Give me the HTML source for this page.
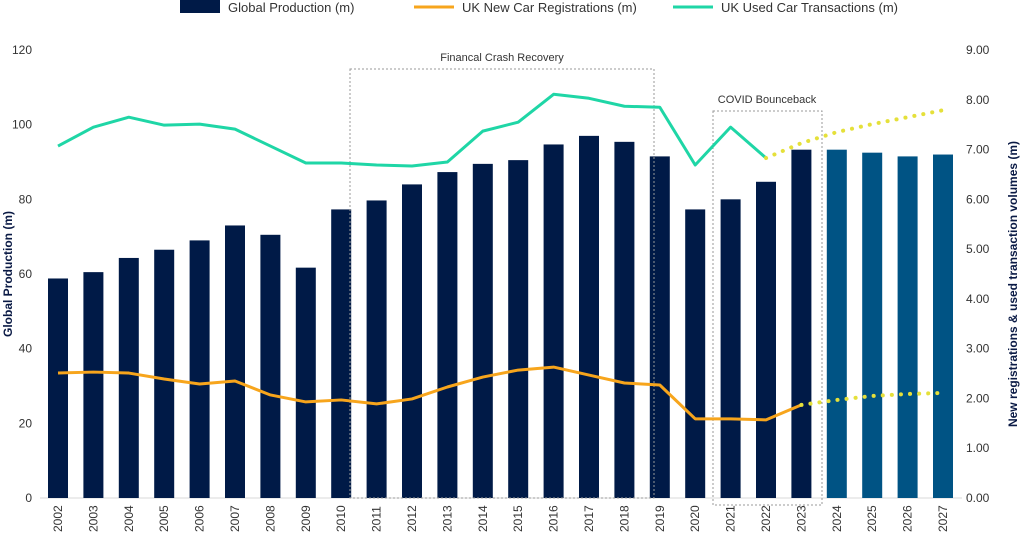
<!DOCTYPE html>
<html><head><meta charset="utf-8">
<style>
html,body{margin:0;padding:0;background:#fff;}
body{width:1024px;height:536px;overflow:hidden;font-family:"Liberation Sans",Arial,sans-serif;}
</style></head>
<body>
<svg id="chart" width="1024" height="536" xmlns="http://www.w3.org/2000/svg" font-family="Liberation Sans, Arial, sans-serif"></svg>
<script>
const years=["2002","2003","2004","2005","2006","2007","2008","2009","2010","2011","2012","2013","2014","2015","2016","2017","2018","2019","2020","2021","2022","2023","2024","2025","2026","2027"];
const production=[58.8,60.5,64.3,66.5,69,73,70.5,61.7,77.3,79.7,84,87.3,89.5,90.5,94.7,97,95.4,91.5,77.3,80,84.7,93.3,93.3,92.5,91.5,92];
const forecastFrom=22;
const usedActual=[7.07,7.45,7.65,7.49,7.51,7.41,7.07,6.73,6.73,6.69,6.67,6.75,7.37,7.55,8.11,8.03,7.87,7.85,6.69,7.45,6.83];
const usedForecast=[6.83,7.13,7.35,7.51,7.65,7.79];
const newActual=[2.51,2.53,2.51,2.39,2.29,2.35,2.07,1.93,1.97,1.89,1.99,2.23,2.43,2.57,2.63,2.47,2.31,2.27,1.59,1.59,1.57,1.87];
const newForecast=[1.87,1.97,2.05,2.09,2.11];
const leftTicks=[0,20,40,60,80,100,120];
const rightTicks=["0.00","1.00","2.00","3.00","4.00","5.00","6.00","7.00","8.00","9.00"];

const svg=document.getElementById('chart');
const NS="http://www.w3.org/2000/svg";
function mk(tag,attrs,parent){const e=document.createElementNS(NS,tag);for(const k in attrs)e.setAttribute(k,attrs[k]);(parent||svg).appendChild(e);return e;}
const y0=498,yTop=50;
const yL=v=>y0-(v/120)*(y0-yTop);
const yR=v=>y0-(v/9)*(y0-yTop);
const x=i=>58+i*35.4;

let base=mk('line',{x1:40,x2:962,y1:y0,y2:y0,stroke:'#d9d9d9','stroke-width':1});


leftTicks.forEach(v=>{const t=mk('text',{x:32,y:yL(v)+4,'text-anchor':'end','font-size':12,fill:'#333'});t.textContent=v;
});
rightTicks.forEach((v,i)=>{const t=mk('text',{x:966,y:yR(i)+4,'text-anchor':'start','font-size':12,fill:'#333'});t.textContent=v;
});

let lt=mk('text',{x:0,y:0,transform:'translate(12,274) rotate(-90)','text-anchor':'middle','font-size':12,'font-weight':'bold',fill:'#0a1a45'});lt.textContent='Global Production (m)';

let rt=mk('text',{x:0,y:0,transform:'translate(1017,284) rotate(-90)','text-anchor':'middle','font-size':12,'font-weight':'bold',fill:'#0a1a45'});rt.textContent='New registrations & used transaction volumes (m)';


production.forEach((v,i)=>{const b=mk('rect',{x:x(i)-10,y:yL(v),width:20,height:y0-yL(v),fill:i>=forecastFrom?'#005384':'#001a47'});
});

years.forEach((yr,i)=>{const t=mk('text',{x:0,y:0,transform:`translate(${x(i)+4},532) rotate(-90)`,'font-size':12,fill:'#333'});t.textContent=yr;
});

let b1=mk('rect',{x:350,y:69,width:304,height:429,fill:'none',stroke:'#999','stroke-width':1,'stroke-dasharray':'2,2'});

let t1=mk('text',{x:502,y:61,'text-anchor':'middle','font-size':11,fill:'#333'});t1.textContent='Financal Crash Recovery';

let b2=mk('rect',{x:713,y:111,width:109,height:394,fill:'none',stroke:'#999','stroke-width':1,'stroke-dasharray':'2,2'});

let t2=mk('text',{x:767,y:103,'text-anchor':'middle','font-size':11,fill:'#333'});t2.textContent='COVID Bounceback';


function pts(arr,off){return arr.map((v,i)=>x(i+off)+','+yR(v)).join(' ');}
let ul=mk('polyline',{points:pts(usedActual,0),fill:'none',stroke:'#1fd6a6','stroke-width':3,'stroke-linejoin':'round'});

let uf=mk('polyline',{points:pts(usedForecast,usedActual.length-1),fill:'none',stroke:'#e5e03a','stroke-width':4,'stroke-dasharray':'0.1,9','stroke-linecap':'round'});

let nl=mk('polyline',{points:pts(newActual,0),fill:'none',stroke:'#f7a51c','stroke-width':3,'stroke-linejoin':'round'});

let nf=mk('polyline',{points:pts(newForecast,newActual.length-1),fill:'none',stroke:'#e5e03a','stroke-width':4,'stroke-dasharray':'0.1,9','stroke-linecap':'round'});


let lg=mk('g',{});
let l1=mk('rect',{x:180,y:0,width:40,height:13,fill:'#001a47'},lg);
let lt1=mk('text',{x:228,y:12,'font-size':13,fill:'#333'},lg);lt1.textContent='Global Production (m)';
let l2=mk('line',{x1:414,x2:454,y1:7,y2:7,stroke:'#f7a51c','stroke-width':3},lg);
let lt2=mk('text',{x:462,y:12,'font-size':13,fill:'#333'},lg);lt2.textContent='UK New Car Registrations (m)';
let l3=mk('line',{x1:673,x2:713,y1:7,y2:7,stroke:'#1fd6a6','stroke-width':3},lg);
let lt3=mk('text',{x:721,y:12,'font-size':13,fill:'#333'},lg);lt3.textContent='UK Used Car Transactions (m)';
</script>
</body></html>
